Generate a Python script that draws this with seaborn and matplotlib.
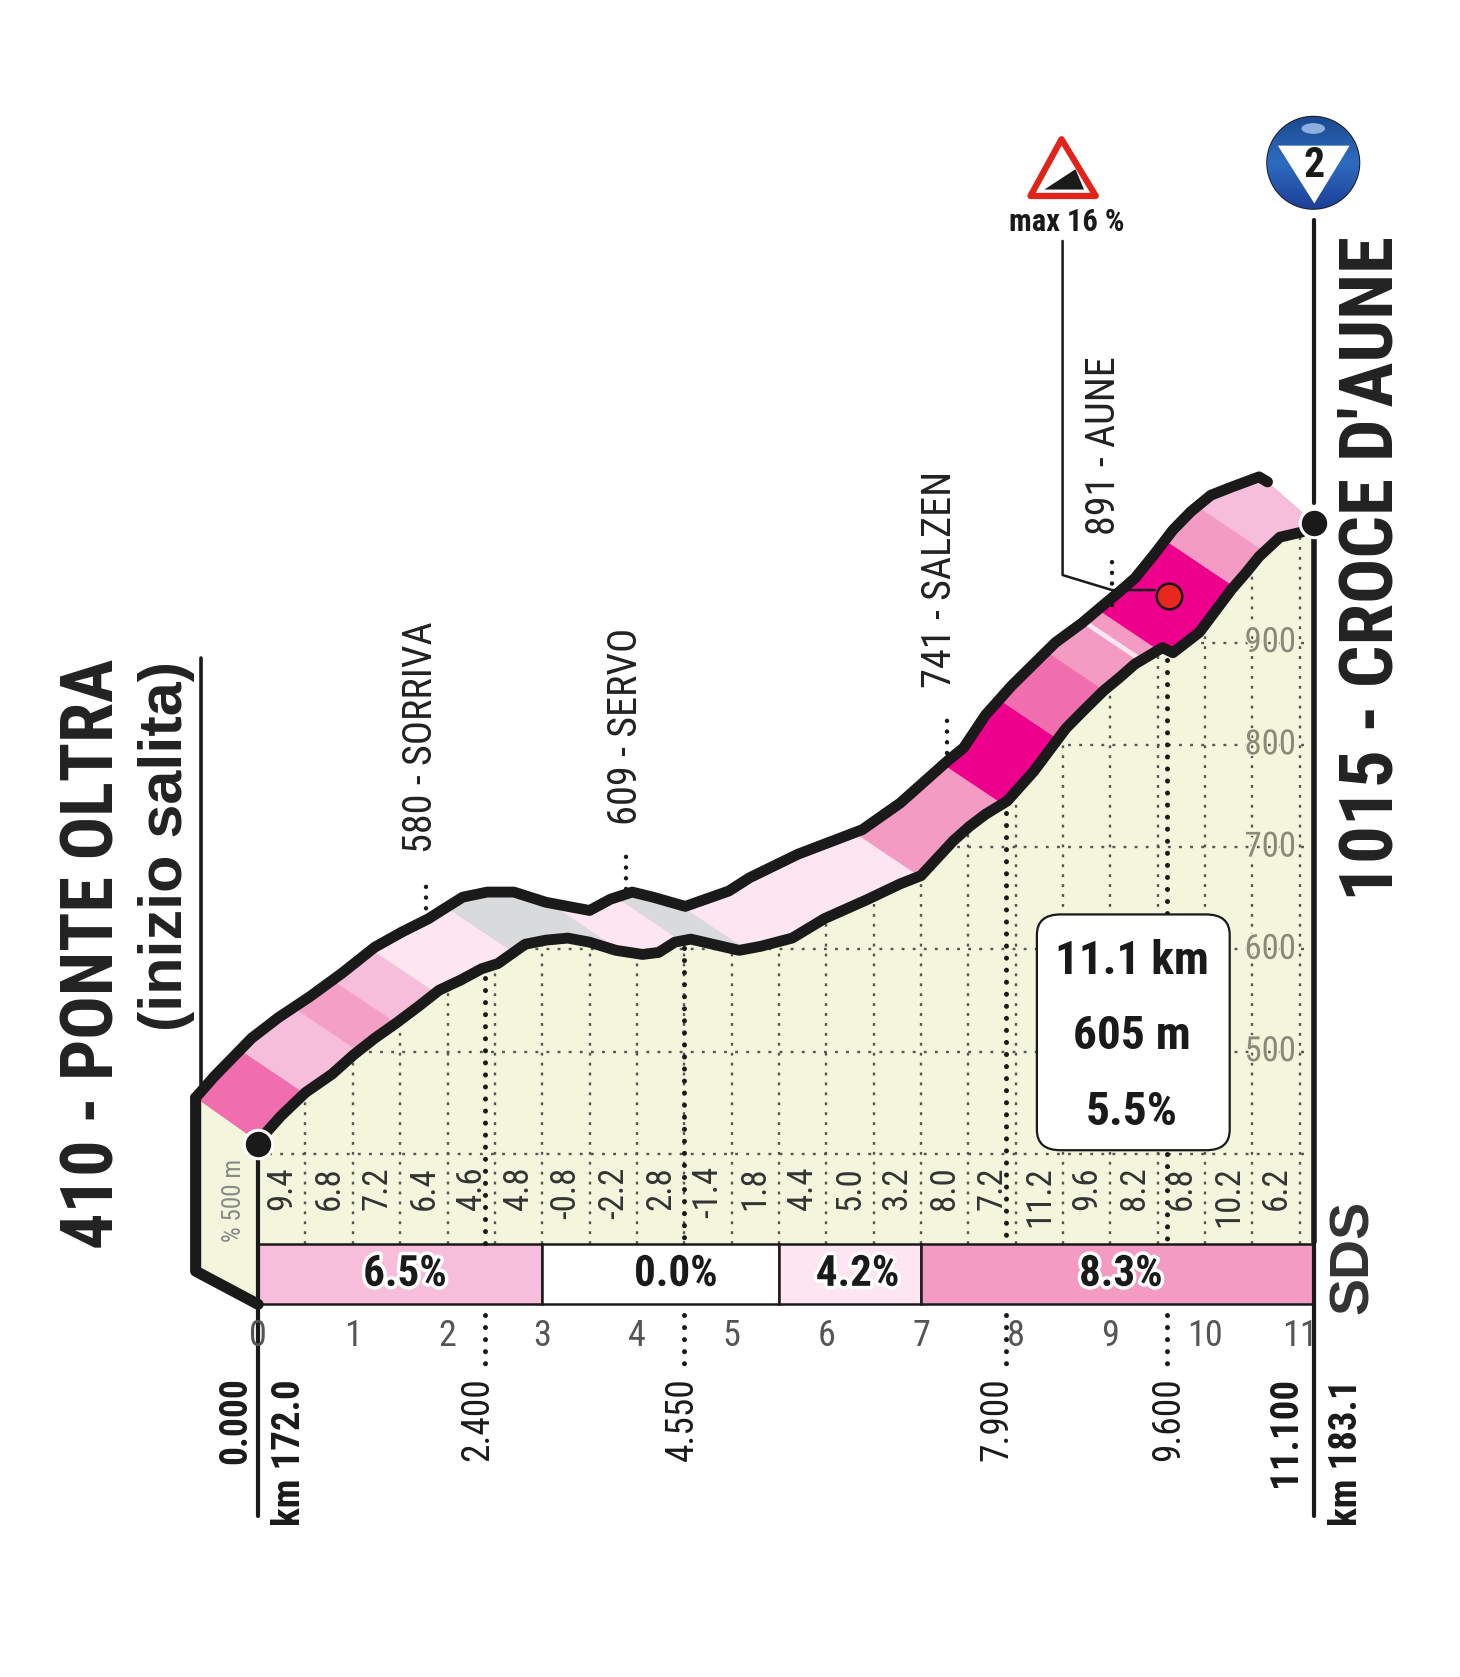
import numpy as np
import matplotlib
matplotlib.use("Agg")
import matplotlib.pyplot as plt
import matplotlib.patheffects as pe
from matplotlib.colors import LinearSegmentedColormap
from matplotlib.patches import Polygon, Ellipse, FancyBboxPatch
import seaborn as sns

# road edges (km, metres)
low_km = [0, 0.24, 0.50, 0.78, 1.01, 1.23, 1.46, 1.69, 1.91, 2.14, 2.36, 2.53, 2.82, 3.04, 3.27, 3.50, 3.78, 4.06,
          4.23, 4.40, 4.57, 4.80, 5.08, 5.31, 5.64, 5.98, 6.44, 6.78, 7.00, 7.34, 7.51, 7.68, 7.91, 8.19, 8.53,
          8.70, 8.93, 9.10, 9.26, 9.55, 9.66, 9.94, 10.11, 10.28, 10.43, 10.57, 10.79, 11.02, 11.15]
low_m = [412, 437, 460, 478, 497, 513, 528, 544, 560, 570, 581, 586, 605, 609, 611, 607, 599, 595,
         597, 607, 610, 605, 599, 603, 611, 630, 649, 664, 672, 706, 720, 732, 745, 774, 816,
         832, 853, 866, 879, 895, 890, 910, 931, 952, 968, 984, 1003, 1008, 1017]
top_km = [-0.66, -0.46, -0.07, 0.21, 0.55, 0.89, 1.23, 1.52, 1.80, 1.97, 2.16, 2.42, 2.70, 3.04, 3.50, 3.72, 3.95,
          4.17, 4.51, 4.97, 5.19, 5.70, 6.38, 6.78, 7.29, 7.45, 7.68, 7.96, 8.19, 8.42, 8.70, 8.93, 9.10, 9.26,
          9.47, 9.66, 9.85, 10.06, 10.28, 10.57, 10.66]
top_m = [455, 476, 513, 533, 554, 577, 602, 617, 630, 640, 651, 656, 656, 646, 638, 649, 656,
         651, 642, 657, 670, 693, 717, 743, 785, 797, 829, 858, 879, 900, 919, 937, 950, 963,
         987, 1010, 1028, 1044, 1052, 1062, 1057]

# colour bands of the ribbon
band_km = [0, 0.48, 1.04, 1.46, 1.87, 2.67, 3.87, 4.46, 5.17, 6.98, 7.85, 8.44, 8.94, 9.52, 10.32, 10.63, 11.4]
band_m = [412, 460, 502, 528, 558, 599, 596, 609, 599, 672, 743, 806, 853, 892, 954, 989, 1030]
band_colors = ["#F06EAE", "#F7BEDB", "#F4A0C6", "#F7BEDB", "#FDE6F1", "#D9DADC", "#FDE6F1", "#D9DADC",
               "#FDE6F1", "#F39BC3", "#EC008C", "#F06EAE", "#F39BC3", "#EC008C", "#F39BC3", "#F7BEDB"]

grades = ["9.4", "6.8", "7.2", "6.4", "4.6", "4.8", "-0.8", "-2.2", "2.8", "-1.4", "1.8",
          "4.4", "5.0", "3.2", "8.0", "7.2", "11.2", "9.6", "8.2", "6.8", "10.2", "6.2"]
km_ticks = list(range(12))
elev_ticks = [500, 600, 700, 800, 900]

section_start = [0, 3, 5.5, 7]
section_width = [3, 2.5, 1.5, 4.15]
section_text_km = [1.55, 4.41, 6.33, 9.11]
section_labels = ["6.5%", "0.0%", "4.2%", "8.3%"]
section_colors = ["#F7BEDB", "#FFFFFF", "#FDE6F1", "#F39BC3"]

place_km = [2.4, 4.5, 7.9, 9.6]
place_m = [580, 609, 741, 891]
place_names = ["580 - SORRIVA", "609 - SERVO", "741 - SALZEN", "891 - AUNE"]
dist_labels = ["2.400", "4.550", "7.900", "9.600"]
dist_text_km = [2.32, 4.48, 7.80, 9.62]

KM_END = 11.15
BLACK = "#1A1A1A"
NARROW = ["Roboto Condensed", "DejaVu Sans"]
ARIAL = ["Liberation Sans", "DejaVu Sans"]


# picture position to data, for the furniture round the profile
def X(v):
    return (v - 241) / 88.4


def Y(v):
    return 500 + (982 - v) / 0.955


sns.set_theme(style="white")
fig = plt.figure(figsize=(14.6, 16.77), dpi=100)
ax = fig.add_axes([0, 0, 1, 1])
ax.set_xlim(X(0), X(1363))
ax.set_ylim(Y(1566), Y(0))
ax.axis("off")

bar_top, bar_bot = Y(1162), Y(1218)

# area under the road
ground = Polygon(list(zip(low_km, low_m)) + [(KM_END, bar_top), (0, bar_top)], fc="#F3F5DC", ec="none", zorder=1)
ax.add_patch(ground)
wedge = Polygon([(top_km[0], top_m[0]), (0, low_m[0]), (0, bar_bot), (top_km[0], Y(1187))], fc="#F3F5DC", ec="none", zorder=1)
ax.add_patch(wedge)

# dotted grid, clipped to the ground
half_km = [i * 0.5 for i in range(1, 23)]
vl = ax.vlines(half_km, bar_top, 1100, color="#555555", lw=1.7, linestyles=(0, (1.2, 3)), zorder=2)
vl.set_clip_path(ground)
hl = ax.hlines([400] + elev_ticks, 0, KM_END, color="#555555", lw=1.7, linestyles=(0, (1.2, 3.5)), zorder=2)
hl.set_clip_path(ground)

# ribbon
ribbon = Polygon(list(zip(top_km, top_m)) + list(zip(low_km[::-1], low_m[::-1])), fc=band_colors[0], ec="none", zorder=3)
ax.add_patch(ribbon)
slant_km, slant_m = -0.54, 33.5
for i, c in enumerate(band_colors):
    a = (band_km[i], band_m[i])
    b = (band_km[i + 1], band_m[i + 1])
    quad = [(a[0] - slant_km, a[1] - slant_m), (a[0] + 2 * slant_km, a[1] + 2 * slant_m),
            (b[0] + 2 * slant_km, b[1] + 2 * slant_m), (b[0] - slant_km, b[1] - slant_m)]
    p = Polygon(quad, fc=c, ec=c, lw=0.3, zorder=3.1)
    ax.add_patch(p)
    p.set_clip_path(ribbon)
stripe, = ax.plot([X(1068), X(1068) + slant_km * 1.1], [881, 881 + slant_m * 1.1], color="#FDE6F1", lw=3.5, zorder=3.2)
stripe.set_clip_path(ribbon)

# road outline
sns.lineplot(x=low_km, y=low_m, sort=False, estimator=None, color=BLACK, lw=7.8, ax=ax, zorder=5, legend=False)
sns.lineplot(x=top_km, y=top_m, sort=False, estimator=None, color=BLACK, lw=7.8, ax=ax, zorder=5, legend=False)
for ln in ax.lines[-2:]:
    ln.set_solid_capstyle("round")
    ln.set_solid_joinstyle("round")

# left wall
ax.plot([top_km[0], top_km[0], 0], [top_m[0], Y(1187), bar_bot], color=BLACK, lw=8, zorder=6, solid_joinstyle="round")

# gradient bar
ax.bar(section_start, [bar_top - bar_bot] * 4, width=section_width, bottom=bar_bot, align="edge",
       color=section_colors, edgecolor=BLACK, lw=1.8, zorder=4)
halo = [pe.withStroke(linewidth=5, foreground="white")]
for k, t in zip(section_text_km, section_labels):
    ax.text(k, Y(1190), t, family=NARROW, weight="bold", fontsize=31, color=BLACK, ha="center", va="center",
            path_effects=halo, zorder=7)

# grade labels
for i, g in enumerate(grades):
    ax.text(0.25 + i * 0.5, Y(1089), g, family=NARROW, fontsize=25, color="#333333", rotation=90, ha="center", va="top", zorder=7)

# km ticks
for k in km_ticks:
    ax.text(k, Y(1248), str(k), family=NARROW, fontsize=26, color="#555555", ha="center", va="center", zorder=7)

# elevation labels
for e in elev_ticks:
    ax.text(X(1186), e, str(e), family=NARROW, fontsize=25, color="#8A8A7A", ha="center", va="center", zorder=6,
            path_effects=[pe.withStroke(linewidth=2, foreground="#F3F5DC")])

# heavy dotted drops and place names
dots = (0, (0.01, 2.4))
for km, m, dist, tk in zip(place_km, place_m, dist_labels, dist_text_km):
    ax.plot([km, km], [m - 8, bar_top], color=BLACK, lw=3.6, ls=dots, dash_capstyle="round", zorder=4)
    ax.plot([km, km], [Y(1228), Y(1276)], color=BLACK, lw=3.6, ls=dots, dash_capstyle="round", zorder=4)
    ax.text(tk, Y(1286), dist, family=NARROW, fontsize=27, color=BLACK, rotation=90, ha="center", va="top", zorder=7)

label_top = [(398, 858, 822, 393), (584, 830, 797, 584), (884, 703, 665, 877), (1038, 565, 520, 1030)]
label_bot = [797, 770, 642, 500]
for (lx, y0, y1, tx), by, name in zip(label_top, label_bot, place_names):
    ax.plot([X(lx), X(lx)], [Y(y0), Y(y1)], color=BLACK, lw=3.2, ls=dots, dash_capstyle="round", zorder=4)
    ax.text(X(tx), Y(by), name, family=NARROW, fontsize=29, color="#222222", rotation=90, ha="center", va="bottom", zorder=7)

# start and finish posts
ax.plot([0, 0], [Y(1080), Y(1416)], color=BLACK, lw=3, zorder=6)
ax.plot([X(1227), X(1227)], [Y(205), Y(470)], color=BLACK, lw=3, zorder=6)
ax.plot([X(1227), X(1227)], [Y(500), Y(1160)], color=BLACK, lw=4, zorder=6)
ax.plot([X(1227), X(1227)], [Y(1160), Y(1416)], color=BLACK, lw=3, zorder=6)
ax.plot([X(188), X(188)], [Y(614), Y(1015)], color=BLACK, lw=2.6, zorder=6)
sns.scatterplot(x=[0, X(1227)], y=[low_m[0] - 2, low_m[-1]], s=420, color=BLACK, edgecolor="white", linewidth=2.2, ax=ax,
                zorder=8, legend=False)

# titles
ax.text(X(88), Y(1166), "410 - PONTE OLTRA", family=NARROW, weight="bold", fontsize=52, color="#222222", rotation=90, ha="center", va="bottom")
ax.text(X(155), Y(963), "(inizio salita)", family=ARIAL, weight="bold", fontsize=44, color="#222222", rotation=90, ha="center", va="bottom")
ax.text(X(1281), Y(841), "1015 - CROCE D'AUNE", family=NARROW, weight="bold", fontsize=54, color="#222222", rotation=90, ha="center", va="bottom")

ax.text(X(220), Y(1286), "0.000", family=NARROW, weight="bold", fontsize=27, color=BLACK, rotation=90, ha="center", va="top")
ax.text(X(270), Y(1288), "km 172.0", family=NARROW, weight="bold", fontsize=28, color=BLACK, rotation=90, ha="center", va="top")
ax.text(X(1200), Y(1286), "11.100", family=NARROW, weight="bold", fontsize=28, color=BLACK, rotation=90, ha="center", va="top")
ax.text(X(1257), Y(1288), "km 183.1", family=NARROW, weight="bold", fontsize=28, color=BLACK, rotation=90, ha="center", va="top")
ax.text(X(218), Y(1160), "% 500 m", family=NARROW, fontsize=18, color="#888888", rotation=90, ha="center", va="bottom", zorder=7)
ax.text(X(1264), Y(1174), "SDS", family=ARIAL, weight="bold", fontsize=40, color="#333333", rotation=90, ha="center", va="center")

# info box
box = FancyBboxPatch((X(968) + 0.2, Y(1076) + 18), X(1148) - X(968) - 0.4, Y(852) - Y(1076) - 36,
                     boxstyle="round,pad=0.2,rounding_size=0.25", mutation_aspect=80, fc="white", ec=BLACK, lw=1.6, zorder=6)
ax.add_patch(box)
for ty, t in zip([897, 967, 1038], ["11.1 km", "605 m", "5.5%"]):
    ax.text(X(1057), Y(ty), t, family=NARROW, weight="bold", fontsize=34, color=BLACK, ha="center", va="center", zorder=7)

# steepest point
ax.plot([X(992), X(992), X(1038), X(1078)], [Y(225), Y(537), Y(551), Y(551)], color=BLACK, lw=1.8, zorder=7)
sns.scatterplot(x=[X(1091)], y=[Y(557)], s=340, color="#E8281E", edgecolor=BLACK, linewidth=1.8, ax=ax, zorder=8, legend=False)
ax.add_patch(Polygon([(X(991), Y(130)), (X(962), Y(183)), (X(1023), Y(183))], fc="white", ec="#E2231A", lw=4.5, joinstyle="round", zorder=7))
ax.add_patch(Polygon([(X(975), Y(177)), (X(1004), Y(158)), (X(1012), Y(177))], fc=BLACK, ec="none", zorder=8))
ax.text(X(996), Y(207), "max 16 %", family=NARROW, weight="bold", fontsize=22, color=BLACK, ha="center", va="center")

# mountain classification badge
badge = Ellipse((X(1226), Y(152)), 86 / 88.4, 86 / 0.955, fc="#1F56A8", ec=BLACK, lw=1.4, zorder=7)
ax.add_patch(badge)
shade = np.linspace(0, 1, 64).reshape(-1, 1)
im = ax.imshow(shade, extent=(X(1183), X(1269), Y(195), Y(109)), origin="upper", aspect="auto", zorder=7.1,
               cmap=LinearSegmentedColormap.from_list("b", ["#1B4A8F", "#2E6CC0", "#1E3F98"]))
im.set_clip_path(badge)
ax.set_xlim(X(0), X(1363))
ax.set_ylim(Y(1566), Y(0))
ax.add_patch(Polygon([(X(1193), Y(136)), (X(1260), Y(136)), (X(1227), Y(190))], fc="white", ec="none", zorder=7.5))
ax.add_patch(Ellipse((X(1226), Y(120)), 22 / 88.4, 10 / 0.955, fc="#8FAEE0", ec="none", zorder=7.5))
ax.text(X(1227), Y(155), "2", family=NARROW, weight="bold", fontsize=30, color=BLACK, ha="center", va="center", zorder=8)

fig.savefig("out.png", dpi=100, facecolor="white")
